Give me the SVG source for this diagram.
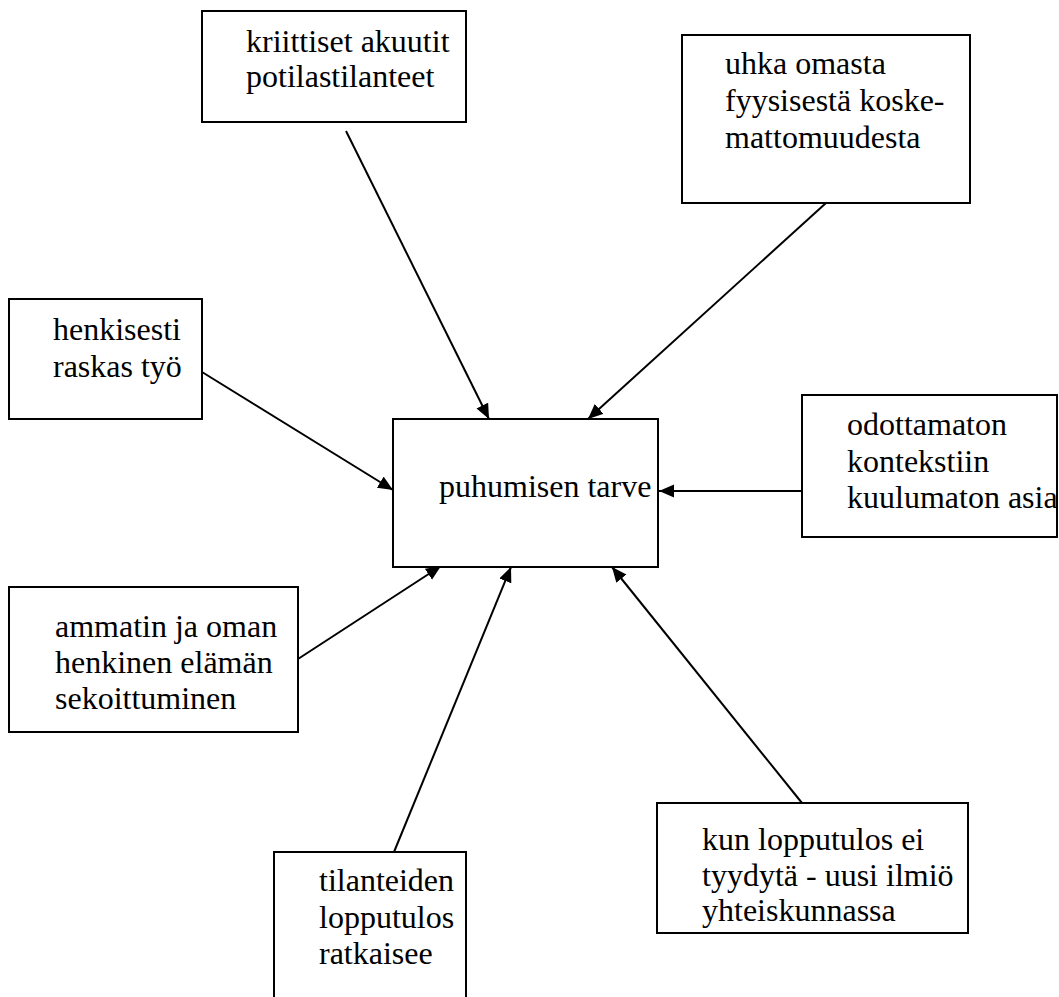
<svg xmlns="http://www.w3.org/2000/svg" width="1059" height="997" viewBox="0 0 1059 997">
<defs>
<style>
.box{fill:#fff;stroke:#000;stroke-width:2}
.c{stroke:#000;stroke-width:2;fill:none;marker-end:url(#ah)}
</style>
<marker id="ah" markerUnits="userSpaceOnUse" markerWidth="16" markerHeight="14" refX="15" refY="6.5" orient="auto">
<path d="M0,0 L15,6.5 L0,13 z" fill="#000"/>
</marker>
</defs>
<rect width="1059" height="997" fill="#fff"/>
<g id="connectors">
<line class="c" x1="346" y1="131" x2="489" y2="419"/>
<line class="c" x1="826" y1="203" x2="588" y2="419"/>
<line class="c" x1="202" y1="372" x2="393" y2="490"/>
<line class="c" x1="802" y1="491" x2="659" y2="491"/>
<line class="c" x1="298" y1="659" x2="441" y2="566"/>
<line class="c" x1="394" y1="852" x2="511" y2="567"/>
<line class="c" x1="802" y1="803" x2="612" y2="567"/>
</g>
<g font-family="'Liberation Serif', 'DejaVu Serif', serif" font-size="32" fill="#000">
<g id="n-center">
<rect class="box" x="393" y="419" width="265" height="148"/>
<text x="439" y="497">puhumisen tarve</text>
</g>
<g id="n-kriittiset">
<rect class="box" x="202" y="11" width="264" height="111"/>
<text x="246" y="52">kriittiset akuutit</text>
<text x="246" y="87">potilastilanteet</text>
</g>
<g id="n-uhka">
<rect class="box" x="682" y="35" width="288" height="168"/>
<text x="725" y="74">uhka omasta</text>
<text x="725" y="111">fyysisestä koske-</text>
<text x="725" y="148">mattomuudesta</text>
</g>
<g id="n-henkisesti">
<rect class="box" x="9" y="299" width="193" height="120"/>
<text x="53" y="340">henkisesti</text>
<text x="53" y="377">raskas työ</text>
</g>
<g id="n-odottamaton">
<rect class="box" x="802" y="395" width="255" height="142"/>
<text x="847" y="435">odottamaton</text>
<text x="847" y="472">kontekstiin</text>
<text x="847" y="508">kuulumaton asia</text>
</g>
<g id="n-ammatin">
<rect class="box" x="9" y="587" width="289" height="145"/>
<text x="55" y="637">ammatin ja oman</text>
<text x="55" y="673">henkinen elämän</text>
<text x="55" y="709">sekoittuminen</text>
</g>
<g id="n-tilanteiden">
<rect class="box" x="274" y="852" width="192" height="160"/>
<text x="319" y="891">tilanteiden</text>
<text x="319" y="928">lopputulos</text>
<text x="319" y="964">ratkaisee</text>
</g>
<g id="n-kun">
<rect class="box" x="657" y="803" width="311" height="130"/>
<text x="702" y="850">kun lopputulos ei</text>
<text x="702" y="886">tyydytä - uusi ilmiö</text>
<text x="702" y="921">yhteiskunnassa</text>
</g>
</g>
</svg>
